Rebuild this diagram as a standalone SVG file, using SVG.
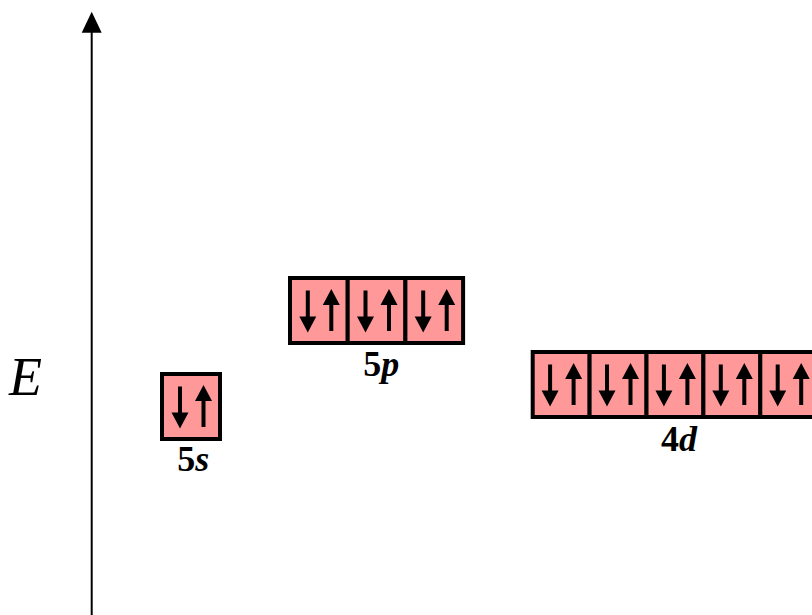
<svg xmlns="http://www.w3.org/2000/svg" xmlns:xlink="http://www.w3.org/1999/xlink" width="812" height="615" viewBox="0 0 812 615">
<style>
.cell{fill:#FF9999;stroke:#000;stroke-width:4}
.lbl{font-family:"Liberation Serif","Times New Roman",serif;font-size:36px;font-weight:bold;text-anchor:middle;fill:#000}
.it{font-style:italic}
.e{font-family:"Liberation Serif","Times New Roman",serif;font-size:54px;font-style:italic;fill:#000}
</style>
<defs>
<path id="dn" d="M-2,0 H2 V26 H8.5 L0,42 L-8.5,26 H-2 Z" fill="#000"/>
<path id="up" d="M0,0 L8.5,16 H2 V42 H-2 V16 H-8.5 Z" fill="#000"/>
<g id="pair">
<use xlink:href="#dn" href="#dn" x="-11" y="14.5"/>
<use xlink:href="#up" href="#up" x="12.5" y="13"/>
</g>
</defs>
<rect width="812" height="615" fill="#fff"/>
<g id="connectors">
<line x1="91.7" y1="615" x2="91.7" y2="30" stroke="#000" stroke-width="2"/>
<polygon points="91.7,11.7 101.7,32.7 81.7,32.7" fill="#000"/>
</g>
<text class="e" x="9" y="395">E</text>
<g id="orb5s">
<rect class="cell" x="162" y="374" width="58" height="65"/>
<use xlink:href="#pair" href="#pair" x="191" y="372"/>
<text class="lbl" x="193.3" y="471">5<tspan class="it">s</tspan></text>
</g>
<g id="orb5p">
<rect class="cell" x="290" y="278" width="57.7" height="65"/>
<rect class="cell" x="347.7" y="278" width="57.7" height="65"/>
<rect class="cell" x="405.4" y="278" width="57.7" height="65"/>
<use xlink:href="#pair" href="#pair" x="318.8" y="276"/>
<use xlink:href="#pair" href="#pair" x="376.5" y="276"/>
<use xlink:href="#pair" href="#pair" x="434.2" y="276"/>
<text class="lbl" x="381.3" y="376">5<tspan class="it">p</tspan></text>
</g>
<g id="orb4d">
<rect class="cell" x="532.7" y="352" width="56.9" height="65"/>
<rect class="cell" x="589.6" y="352" width="56.9" height="65"/>
<rect class="cell" x="646.5" y="352" width="56.9" height="65"/>
<rect class="cell" x="703.4" y="352" width="56.9" height="65"/>
<rect class="cell" x="760.3" y="352" width="56.9" height="65"/>
<use xlink:href="#pair" href="#pair" x="561.1" y="350"/>
<use xlink:href="#pair" href="#pair" x="618" y="350"/>
<use xlink:href="#pair" href="#pair" x="674.9" y="350"/>
<use xlink:href="#pair" href="#pair" x="731.8" y="350"/>
<use xlink:href="#pair" href="#pair" x="788.7" y="350"/>
<text class="lbl" x="679" y="451">4<tspan class="it">d</tspan></text>
</g>
</svg>
